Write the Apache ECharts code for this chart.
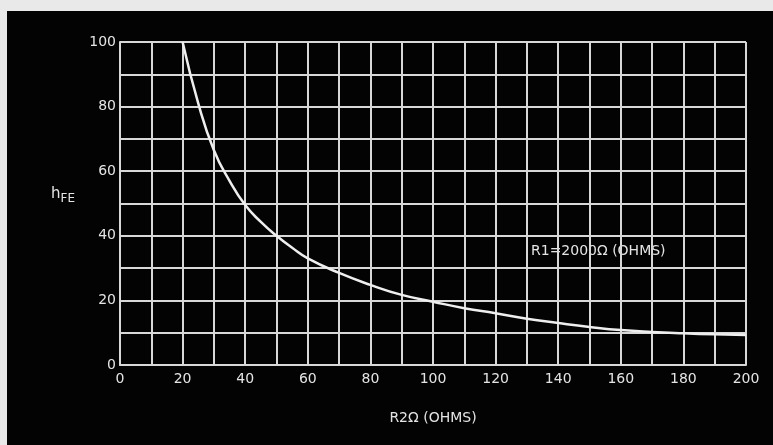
<!DOCTYPE html>
<html>
<head>
<meta charset="utf-8">
<script src="https://cdn.jsdelivr.net/npm/echarts@6/dist/echarts.min.js"></script>
<style>
html,body{margin:0;padding:0;background:#e9e9e9;}
#c{width:773px;height:445px;}
</style>
</head>
<body>
<div id="c"></div>
<script>
const r2Values = [20, 25, 30, 35, 40, 45, 50, 55, 60, 70, 80, 90, 100, 110, 120, 130, 140, 150, 160, 170, 180, 190, 200];
const hfeValues = [100, 81, 66.5, 57, 49.5, 44.3, 40, 36.3, 33, 28.5, 24.8, 21.7, 19.6, 17.6, 16, 14.3, 13, 11.8, 10.8, 10.2, 9.8, 9.5, 9.3];
const xTicks = [0, 20, 40, 60, 80, 100, 120, 140, 160, 180, 200];
const yTicks = [0, 20, 40, 60, 80, 100];
const xTitle = 'R2\u03A9 (OHMS)';
const yTitle = ['h', 'FE'];
const note = 'R1=2000\u03A9 (OHMS)';

const chart = echarts.init(document.getElementById('c'));
const fg = '#e4e4e4';
const gridCol = '#d8d8d8';
const font = '"DejaVu Sans", sans-serif';

chart.setOption({
  backgroundColor: 'transparent',
  animation: false,
  graphic: [
    { type: 'rect', left: 7, top: 11, shape: { width: 766, height: 434 }, style: { fill: '#030303' }, z: -10 },
    { type: 'text', left: 51, top: 187, style: { rich: { h: { fontSize: 15, fill: fg, fontFamily: font }, s: { fontSize: 12, fill: fg, fontFamily: font, padding: [8, 0, 0, 0] } }, text: '{h|' + yTitle[0] + '}{s|' + yTitle[1] + '}' } },
    { type: 'text', left: 531, top: 244, style: { text: note, fontSize: 14, fill: fg, fontFamily: font } }
  ],
  grid: { left: 120, top: 42, width: 626, height: 323, containLabel: false },
  xAxis: {
    type: 'value', min: 0, max: 200, interval: 10,
    name: xTitle, nameLocation: 'middle', nameGap: 46,
    nameTextStyle: { color: fg, fontSize: 14, fontFamily: font },
    axisLine: { show: true, lineStyle: { color: gridCol, width: 2 } },
    axisTick: { show: false },
    axisLabel: { color: fg, fontSize: 14, fontFamily: font, margin: 7,
      formatter: v => xTicks.includes(v) ? String(v) : '' },
    splitLine: { show: true, lineStyle: { color: gridCol, width: 2 } }
  },
  yAxis: {
    type: 'value', min: 0, max: 100, interval: 10,
    axisLine: { show: true, lineStyle: { color: gridCol, width: 2 } },
    axisTick: { show: false },
    axisLabel: { color: fg, fontSize: 14, fontFamily: font, margin: 4,
      formatter: v => yTicks.includes(v) ? String(v) : '' },
    splitLine: { show: true, lineStyle: { color: gridCol, width: 2 } }
  },
  series: [{
    type: 'line', smooth: 0.5, symbol: 'none',
    data: r2Values.map((x, i) => [x, hfeValues[i]]),
    lineStyle: { color: '#eeeeee', width: 2.5 }
  }]
});
</script>
</body>
</html>
